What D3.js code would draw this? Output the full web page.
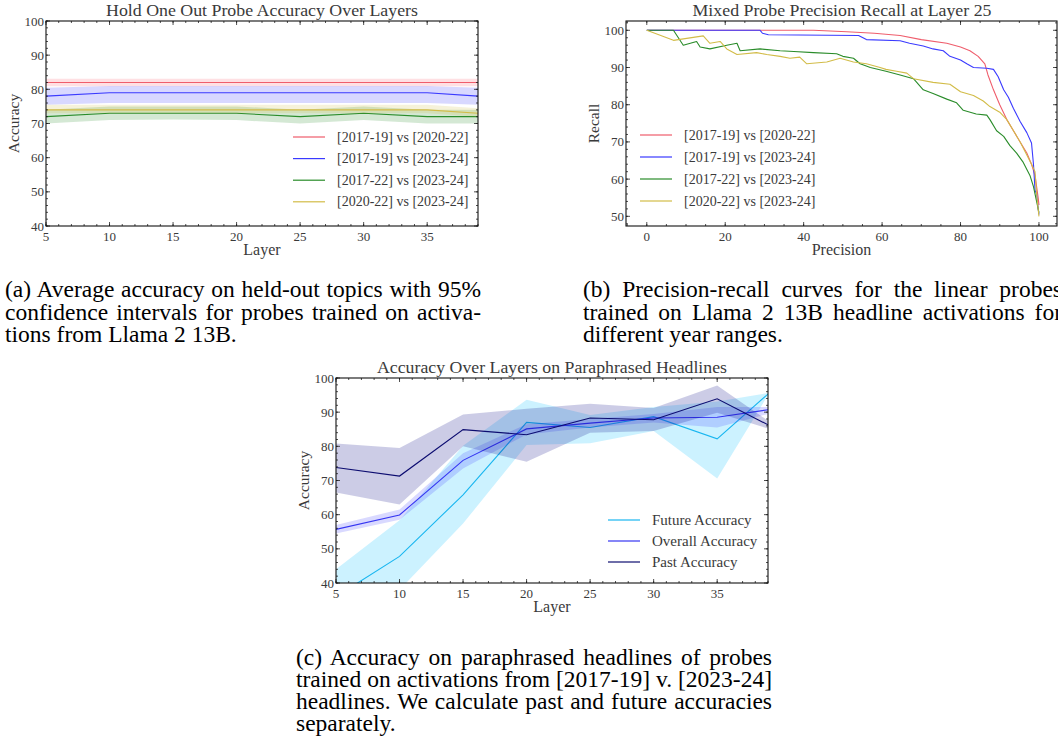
<!DOCTYPE html>
<html><head><meta charset="utf-8">
<script src="https://cdn.jsdelivr.net/npm/d3@7/dist/d3.min.js"></script>
<style>
html,body{margin:0;padding:0;background:#fff;}
text{font-family:"Tinos","Liberation Serif",serif;}
</style></head>
<body>
<script>
// ---------------- DATA ----------------
// Panel (a)
const layersA = [5, 10, 15, 20, 25, 30, 35, 39];
const namesA = ["[2017-19] vs [2020-22]", "[2017-19] vs [2023-24]", "[2017-22] vs [2023-24]", "[2020-22] vs [2023-24]"];
const accA1 = [82, 82, 82, 82, 82, 82, 82, 82];
const loA1  = [80.9, 80.9, 80.9, 80.9, 80.9, 80.9, 80.9, 80.9];
const hiA1  = [83.1, 83.1, 83.1, 83.1, 83.1, 83.1, 83.1, 83.1];
const accA2 = [78, 79, 79, 79, 79, 79, 79, 78];
const loA2  = [75.5, 76, 76, 76, 76, 76, 76, 75.5];
const hiA2  = [80.5, 81, 81, 81, 81, 81, 81, 80.5];
const accA3 = [72, 73, 73, 73, 72, 73, 72, 72];
const loA3  = [70, 71, 71.2, 71, 70, 71, 70, 70];
const hiA3  = [74, 75, 75, 75, 74, 75, 74, 74];
const accA4 = [74, 74, 74, 74, 74, 74, 74, 73];
const loA4  = [73, 73, 73, 73, 73, 73, 73, 72];
const hiA4  = [75.5, 75.5, 75.5, 75.5, 75.5, 75.5, 75.5, 74.5];

// Panel (b)
const precB1 = [0, 10, 20, 30, 42.5, 51, 58, 64.6, 70, 76.5, 80, 82.4, 84.5, 86.2, 87, 88.4, 90, 91.8, 93.5, 95.2, 96.9, 98.1, 99, 99.8, 100];
const recB1  = [100, 100, 100, 100, 100, 99.6, 99.2, 98.6, 97.5, 96.5, 95.5, 94.5, 93, 91, 88, 84, 80, 76, 73, 70, 67, 64, 61, 55, 53];
const precB2 = [0, 28.9, 29.5, 31, 54, 56, 64.6, 67, 70.5, 73, 75.6, 77.3, 80, 81.6, 83.3, 86.7, 88.4, 89.6, 91, 92.2, 93.5, 95.2, 96.9, 98.1, 98.6, 99, 99.4, 99.8, 100];
const recB2  = [100, 100, 99.2, 98.8, 98.6, 97.5, 97.2, 96.5, 95.8, 95, 94.5, 93, 92, 91, 90, 89.8, 89.5, 87.5, 84, 82, 79, 75.5, 72.5, 69.7, 64, 57, 56, 52, 50.5];
const precB3 = [0, 6.8, 9.3, 12.7, 13.6, 16.1, 20.4, 23, 23.8, 28.9, 34, 37.5, 42.5, 48.4, 50, 52.7, 54.4, 57, 61, 64.6, 68, 70.5, 73, 76.5, 79, 80.7, 84, 86.7, 87.5, 89.2, 91, 92.6, 94.3, 96, 97.7, 98.6, 99.4, 100];
const recB3  = [100, 100, 96, 97, 95.5, 95, 96, 96.5, 94.5, 95, 94.5, 94.3, 94, 93.7, 93, 92.5, 91, 90, 89, 88, 87, 84, 83, 81.5, 80.5, 78.5, 77.5, 77.2, 76, 73, 71.5, 69, 67, 64.5, 61, 58, 54, 51];
const precB4 = [0, 6.8, 14.4, 16.1, 18.7, 20.4, 23, 28, 30.6, 34, 36.5, 39, 40.8, 45.9, 49.3, 52.7, 56, 59.5, 61, 63.7, 66.3, 68, 73, 77.3, 80, 83.3, 85.8, 87.5, 90, 91.8, 93.5, 95.2, 96.9, 98.1, 99, 99.4, 100];
const recB4  = [100, 97.3, 98.5, 96.5, 97, 95, 93.5, 94, 93.5, 93, 92.5, 92.8, 91, 91.5, 92.5, 91.5, 91, 90, 89.5, 89, 88.5, 87, 86, 85.5, 83.5, 82.5, 81, 79.5, 78, 76, 73, 70, 66.5, 64, 62, 56, 50];

// Panel (c)
const layersC = [5, 10, 15, 20, 25, 30, 35, 39];
const namesC = ["Future Accuracy", "Overall Accuracy", "Past Accuracy"];
const futureAcc = [36, 47.8, 65.8, 87, 85.5, 88.7, 82.2, 95.3];
const futureLo  = [28, 38, 57.4, 80.4, 80.9, 84.5, 70.6, 95];
const futureHi  = [44, 58.4, 80.2, 93.6, 89.2, 91.5, 93.1, 95.6];
const overallAcc = [55.7, 59.9, 75.9, 85.1, 86.8, 88.3, 88.5, 90.7];
const overallLo  = [54.5, 58.5, 73.5, 83.5, 85.5, 87, 85.5, 89.5];
const overallHi  = [57, 61.5, 78, 86.5, 88, 89.5, 91.5, 91.5];
const pastAcc = [73.8, 71.3, 84.9, 83.4, 88.3, 87.8, 93.9, 86.3];
const pastLo  = [66.5, 63, 80, 75.5, 84, 84.5, 89.8, 85.2];
const pastHi  = [80.8, 79.5, 89.3, 91, 92.5, 91.2, 97.8, 87.5];

// Tick labels
const ticksLayer = [5, 10, 15, 20, 25, 30, 35];
const ticksAcc = [40, 50, 60, 70, 80, 90, 100];
const ticksPrec = [0, 20, 40, 60, 80, 100];
const ticksRec = [50, 60, 70, 80, 90, 100];

// Captions
const capA = ["(a) Average accuracy on held-out topics with 95%", "confidence intervals for probes trained on activa-", "tions from Llama 2 13B."];
const capB = ["(b) Precision-recall curves for the linear probes", "trained on Llama 2 13B headline activations for", "different year ranges."];
const capC = ["(c) Accuracy on paraphrased headlines of probes", "trained on activations from [2017-19] v. [2023-24]", "headlines. We calculate past and future accuracies", "separately."];

// ---------------- DRAW ----------------
const W = 1058, H = 738;
const svg = d3.select("body").append("svg").attr("width", W).attr("height", H);
const TXT = "#3a3a3a";
const colA = ["#ef5d6c", "#3a3aff", "#2a8c2a", "#d2bc48"];
const bandA = ["#ff3040", "#3a3aff", "#2a8c2a", "#d2bc48"];

function frame(g, x, y, opt) {
  const [x0, x1] = x.range(), [y0, y1] = y.range(); // y0 bottom
  const L = Math.min(x0, x1), R = Math.max(x0, x1), T = Math.min(y0, y1), B = Math.max(y0, y1);
  const tk = g.append("g").attr("stroke", "#222").attr("stroke-width", 0.8);
  opt.xMinor.forEach(v => {
    const p = x(v);
    tk.append("line").attr("x1", p).attr("x2", p).attr("y1", B).attr("y2", B - 2);
    tk.append("line").attr("x1", p).attr("x2", p).attr("y1", T).attr("y2", T + 2);
  });
  opt.yMinor.forEach(v => {
    const p = y(v);
    tk.append("line").attr("y1", p).attr("y2", p).attr("x1", L).attr("x2", L + 2);
    tk.append("line").attr("y1", p).attr("y2", p).attr("x1", R).attr("x2", R - 2);
  });
  opt.xMajor.forEach(v => {
    const p = x(v);
    tk.append("line").attr("x1", p).attr("x2", p).attr("y1", B).attr("y2", B - 4);
    tk.append("line").attr("x1", p).attr("x2", p).attr("y1", T).attr("y2", T + 4);
    g.append("text").attr("x", p).attr("y", B + 15).attr("text-anchor", "middle")
      .attr("font-size", 13).attr("fill", TXT).text(v);
  });
  opt.yMajor.forEach(v => {
    const p = y(v);
    tk.append("line").attr("y1", p).attr("y2", p).attr("x1", L).attr("x2", L + 4);
    tk.append("line").attr("y1", p).attr("y2", p).attr("x1", R).attr("x2", R - 4);
    g.append("text").attr("x", L - 2).attr("y", p + 4.5).attr("text-anchor", "end")
      .attr("font-size", 13).attr("fill", TXT).text(v);
  });
  g.append("rect").attr("x", L).attr("y", T).attr("width", R - L).attr("height", B - T)
    .attr("fill", "none").attr("stroke", "#111").attr("stroke-width", 1.1);
  g.append("text").attr("x", opt.titleX - opt.titleW / 2).attr("y", T - 5)
    .attr("font-size", 17.5).attr("fill", TXT).text(opt.title)
    .attr("textLength", opt.titleW).attr("lengthAdjust", "spacingAndGlyphs");
  g.append("text").attr("x", (L + R) / 2).attr("y", B + 29).attr("text-anchor", "middle")
    .attr("font-size", 16).attr("fill", TXT).text(opt.xLabel);
  g.append("text").attr("transform", `translate(${L - 27},${(T + B) / 2}) rotate(-90)`)
    .attr("text-anchor", "middle").attr("font-size", 15.5).attr("fill", TXT).text(opt.yLabel);
}

function legend(g, x0, y0, dy, names, colors, fs) {
  names.forEach((n, i) => {
    const yy = y0 + i * dy;
    g.append("line").attr("x1", x0).attr("x2", x0 + 32).attr("y1", yy).attr("y2", yy)
      .attr("stroke", colors[i]).attr("stroke-width", 1.2);
    g.append("text").attr("x", x0 + 44).attr("y", yy + 4.5).attr("font-size", fs)
      .attr("fill", TXT).text(n);
  });
}

// ---- Panel A ----
{
  const g = svg.append("g");
  const x = d3.scaleLinear().domain([5, 39]).range([46, 478]);
  const y = d3.scaleLinear().domain([40, 100]).range([226, 21]);
  const acc = [accA1, accA2, accA3, accA4], lo = [loA1, loA2, loA3, loA4], hi = [hiA1, hiA2, hiA3, hiA4];
  const area = d3.area().x(d => x(d[0])).y0(d => y(d[1])).y1(d => y(d[2]));
  const line = d3.line().x(d => x(d[0])).y(d => y(d[1]));
  acc.forEach((a, k) => {
    const rows = layersA.map((l, i) => [l, lo[k][i], hi[k][i]]);
    g.append("path").attr("d", area(rows)).attr("fill", bandA[k]).attr("fill-opacity", k === 0 ? 0.15 : 0.2);
    g.append("path").attr("d", line(layersA.map((l, i) => [l, a[i]]))).attr("fill", "none")
      .attr("stroke", colA[k]).attr("stroke-width", 1.1);
  });
  frame(g, x, y, {
    xMajor: ticksLayer, xMinor: d3.range(5, 40, 1), yMajor: ticksAcc, yMinor: d3.range(40, 101, 2),
    title: "Hold One Out Probe Accuracy Over Layers", titleX: 262, titleW: 312,
    xLabel: "Layer", yLabel: "Accuracy"
  });
  legend(g, 293, 137, 21.6, namesA, colA, 14);
}

// ---- Panel B ----
{
  const g = svg.append("g");
  const x = d3.scaleLinear().domain([-5.3, 104.6]).range([626, 1057]);
  const y = d3.scaleLinear().domain([47.4, 102.5]).range([226, 21]);
  const line = d3.line().x(d => x(d[0])).y(d => y(d[1]));
  const P = [precB1, precB2, precB3, precB4], R = [recB1, recB2, recB3, recB4];
  P.forEach((p, k) => {
    g.append("path").attr("d", line(p.map((v, i) => [v, R[k][i]]))).attr("fill", "none")
      .attr("stroke", colA[k]).attr("stroke-width", 1.1).attr("stroke-linejoin", "round");
  });
  frame(g, x, y, {
    xMajor: ticksPrec, xMinor: d3.range(-5, 105, 5), yMajor: ticksRec, yMinor: d3.range(48, 103, 2),
    title: "Mixed Probe Precision Recall at Layer 25", titleX: 842, titleW: 299,
    xLabel: "Precision", yLabel: "Recall"
  });
  legend(g, 640, 135, 22, namesA, colA, 14);
}

// ---- Panel C ----
{
  const g = svg.append("g");
  const x = d3.scaleLinear().domain([5, 39]).range([336, 768]);
  const y = d3.scaleLinear().domain([40, 100]).range([583, 378]);
  svg.append("defs").append("clipPath").attr("id", "clipC").append("rect")
    .attr("x", 336).attr("y", 378).attr("width", 432).attr("height", 205);
  const pg = g.append("g").attr("clip-path", "url(#clipC)");
  const area = d3.area().x(d => x(d[0])).y0(d => y(d[1])).y1(d => y(d[2]));
  const line = d3.line().x(d => x(d[0])).y(d => y(d[1]));
  const acc = [futureAcc, overallAcc, pastAcc], lo = [futureLo, overallLo, pastLo], hi = [futureHi, overallHi, pastHi];
  const lineCol = ["#19b6f0", "#3535f2", "#0c0c70"];
  const bandCol = ["#00bfff", "#4040ff", "#000080"];
  acc.forEach((a, k) => {
    pg.append("path").attr("d", area(layersC.map((l, i) => [l, lo[k][i], hi[k][i]])))
      .attr("fill", bandCol[k]).attr("fill-opacity", 0.2);
    pg.append("path").attr("d", line(layersC.map((l, i) => [l, a[i]]))).attr("fill", "none")
      .attr("stroke", lineCol[k]).attr("stroke-width", 1.1);
  });
  frame(g, x, y, {
    xMajor: ticksLayer, xMinor: d3.range(5, 40, 1), yMajor: ticksAcc, yMinor: d3.range(40, 101, 2),
    title: "Accuracy Over Layers on Paraphrased Headlines", titleX: 552, titleW: 350,
    xLabel: "Layer", yLabel: "Accuracy"
  });
  legend(g, 608, 520, 21, namesC, lineCol, 15);
}

// ---- Captions (justified like the LaTeX source) ----
function caption(x, y0, lh, lines, right, fs) {
  lines.forEach((ln, i) => {
    const t = svg.append("text").attr("x", x).attr("y", y0 + i * lh).attr("font-size", fs)
      .attr("fill", "#000").text(ln);
    if (i < lines.length - 1) {
      const w = t.node().getComputedTextLength();
      const n = (ln.match(/ /g) || []).length;
      if (n > 0) t.style("word-spacing", ((right - x - w) / n) + "px");
    }
  });
}
caption(5, 297, 22.5, capA, 481, 23.5);
caption(583, 297, 22.5, capB, 1062, 23.5);
caption(296, 665, 22, capC, 772, 23.5);
</script>
</body></html>
